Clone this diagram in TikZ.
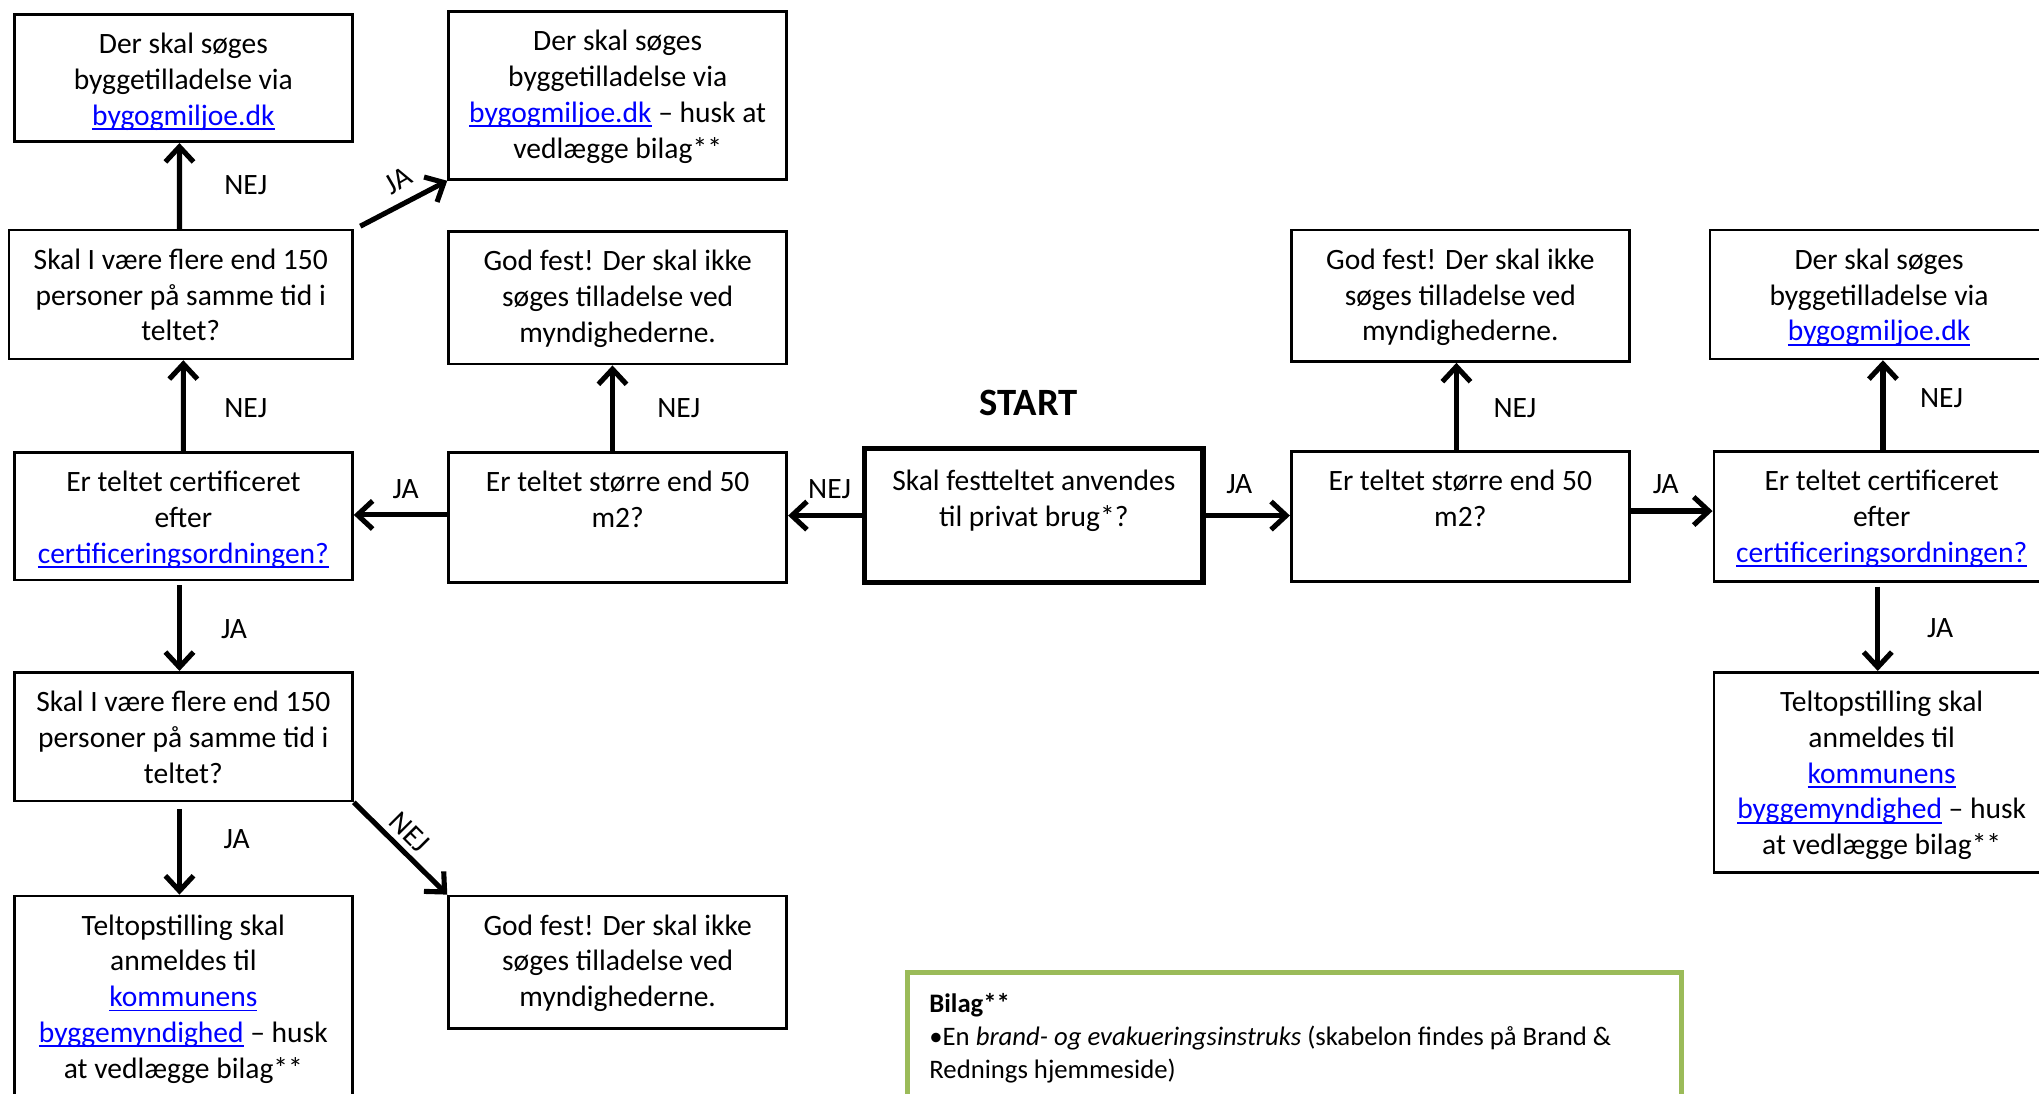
\documentclass[tikz,border=0pt]{standalone}
\usepackage{fontspec}
\setmainfont{Carlito}
\usetikzlibrary{arrows.meta}
\definecolor{linkblue}{RGB}{0,0,255}
\definecolor{bilaggreen}{RGB}{155,187,89}
\newcommand\upx{0.37pt}
\newcommand\lnk[1]{{\color{linkblue}\setbox0\hbox{#1}\rlap{\rule[-1.3pt]{\wd0}{0.5pt}}\box0}}
\newcommand\fst{\rule{0pt}{7pt}}
\newcommand\mainsz{\fontsize{8.4}{10.2}\selectfont}
\begin{document}
\begin{tikzpicture}[x=0.013004cm,y=-0.013004cm,
  box/.style={draw, line width=0.75pt, inner sep=0pt, minimum width=260*0.37pt},
  txt/.style={anchor=north, yshift=-4.3pt, align=center, inner sep=0pt, font=\mainsz},
  arr/.style={line width=1.45pt, -{Straight Barb[length=4.3pt,width=8pt]}},
  lbl/.style={inner sep=0pt, font=\mainsz}]
\useasboundingbox (0,0) rectangle (1568,841);
\clip (0,0) rectangle (1568,841);
% boxes
\node[box, minimum height=98*\upx] (a1) at (141,60) {};
\node[box, minimum height=129*\upx] (a2) at (475,73.5) {};
\node[box, minimum width=264*\upx, minimum height=99*\upx] (q1) at (139,226.5) {};
\node[box, minimum height=102*\upx] (g1) at (475,229) {};
\node[box, minimum height=98*\upx] (cl) at (141,397) {};
\node[box, minimum height=100*\upx] (sl) at (475,398) {};
\node[box, line width=1.5pt, minimum height=103*\upx] (st) at (795,396.5) {};
\node[box, minimum height=100*\upx] (sr) at (1123,397) {};
\node[box, minimum height=100*\upx] (cr) at (1448,397) {};
\node[box, minimum height=101*\upx] (g2) at (1123,227.5) {};
\node[box, minimum height=99*\upx] (a3) at (1445,226.5) {};
\node[box, minimum width=258*\upx, minimum height=154*\upx] (tr) at (1447,594) {};
\node[box, minimum height=99*\upx] (q2) at (141,566.5) {};
\node[box, minimum height=160*\upx] (tl) at (141,769) {};
\node[box, minimum height=102*\upx] (g3) at (475,740) {};
\node[draw=bilaggreen, line width=1.3pt, inner sep=0pt, minimum width=595*\upx, minimum height=160*\upx] (bl) at (995.5,828) {};
% texts
\node[txt] (a1t) at (a1.north) {\fst Der skal søges\\byggetilladelse via\\\lnk{bygogmiljoe.dk}};
\node[txt] (a2t) at (a2.north) {\fst Der skal søges\\byggetilladelse via\\\lnk{bygogmiljoe.dk} – husk at\\vedlægge bilag**};
\node[txt] (q1t) at (q1.north) {\fst Skal I være flere end 150\\personer på samme tid i\\teltet?};
\node[txt] (g1t) at (g1.north) {\fst God fest! Der skal ikke\\søges tilladelse ved\\myndighederne.};
\node[txt] (clt) at (cl.north) {\fst Er teltet certificeret\\efter\\\lnk{certificeringsordningen?}};
\node[txt] (slt) at (sl.north) {\fst Er teltet større end 50\\m2?};
\node[txt, yshift=-1.1pt] (stt) at (st.north) {\fst Skal festteltet anvendes\\til privat brug*?};
\node[txt] (srt) at (sr.north) {\fst Er teltet større end 50\\m2?};
\node[txt] (crt) at ([xshift=-1*\upx]cr.north) {\fst Er teltet certificeret\\efter\\\lnk{certificeringsordningen?}};
\node[txt] (g2t) at (g2.north) {\fst God fest! Der skal ikke\\søges tilladelse ved\\myndighederne.};
\node[txt] (a3t) at (a3.north) {\fst Der skal søges\\byggetilladelse via\\\lnk{bygogmiljoe.dk}};
\node[txt] (trt) at (tr.north) {\fst Teltopstilling skal\\anmeldes til\\\lnk{kommunens}\\\lnk{byggemyndighed} – husk\\at vedlægge bilag**};
\node[txt] (q2t) at (q2.north) {\fst Skal I være flere end 150\\personer på samme tid i\\teltet?};
\node[txt] (tlt) at (tl.north) {\fst Teltopstilling skal\\anmeldes til\\\lnk{kommunens}\\\lnk{byggemyndighed} – husk\\at vedlægge bilag**};
\node[txt] (g3t) at (g3.north) {\fst God fest! Der skal ikke\\søges tilladelse ved\\myndighederne.};
\node[anchor=north west, align=left, inner sep=0pt, font=\fontsize{7.6}{9.4}\selectfont] (blt) at ([xshift=18*\upx,yshift=-4.9pt]bl.north west) {\fst\textbf{Bilag**}\\•En \textit{brand- og evakueringsinstruks} (skabelon findes på Brand \&\\Rednings hjemmeside)};
\node[font=\fontsize{11}{13}\selectfont\bfseries, inner sep=0pt] (start) at (791,310) {START};
% arrows
\draw[arr] ([xshift=-1*\upx]q1.north) -- ([xshift=-3*\upx]a1.south);
\draw[arr] ([xshift=5*\upx,yshift=2*\upx]q1.north east) -- (a2.south west);
\draw[arr] (cl.north) -- ([xshift=2*\upx]q1.south);
\draw[arr] ([xshift=-4*\upx]sl.north) -- ([xshift=-4*\upx]g1.south);
\draw[arr] ([yshift=2*\upx]sl.west) coordinate (p5) -- (p5 -| cl.east);
\draw[arr] (st.west) -- (st.west -| sl.east);
\draw[arr] (st.east) -- (st.east -| sr.west);
\draw[arr] ([xshift=-3*\upx]sr.north) -- ([xshift=-3*\upx]g2.south);
\draw[arr] ([yshift=4*\upx]sr.east) coordinate (p9) -- (p9 -| cr.west);
\draw[arr] (cr.north) -- (cr.north |- a3.south);
\draw[arr] ([xshift=-4*\upx,yshift=-3*\upx]cr.south) coordinate (p11) -- (p11 |- tr.north);
\draw[arr] ([xshift=-3*\upx,yshift=-3*\upx]cl.south) coordinate (p12) -- (p12 |- q2.north);
\draw[arr] ([xshift=-3*\upx,yshift=-5*\upx]q2.south) coordinate (p13) -- (p13 |- tl.north);
\draw[arr] (q2.south east) -- (g3.north west);
% labels
\node[lbl] (l1) at (189,142) {NEJ};
\node[lbl, rotate=30] (l2) at (306,139) {JA};
\node[lbl] (l3) at (189,314) {NEJ};
\node[lbl] (l4) at (522,314) {NEJ};
\node[lbl] (l5) at (312,376) {JA};
\node[lbl] (l6) at (638,376) {NEJ};
\node[lbl] (l7) at (953,372) {JA};
\node[lbl] (l8) at (1165,314) {NEJ};
\node[lbl] (l9) at (1281,372) {JA};
\node[lbl] (l10) at (1493,306) {NEJ};
\node[lbl] (l11) at (1492,483) {JA};
\node[lbl] (l12) at (180,484) {JA};
\node[lbl] (l13) at (182,645) {JA};
\node[lbl, rotate=-45] (l14) at (315,640) {NEJ};
\end{tikzpicture}
\end{document}
